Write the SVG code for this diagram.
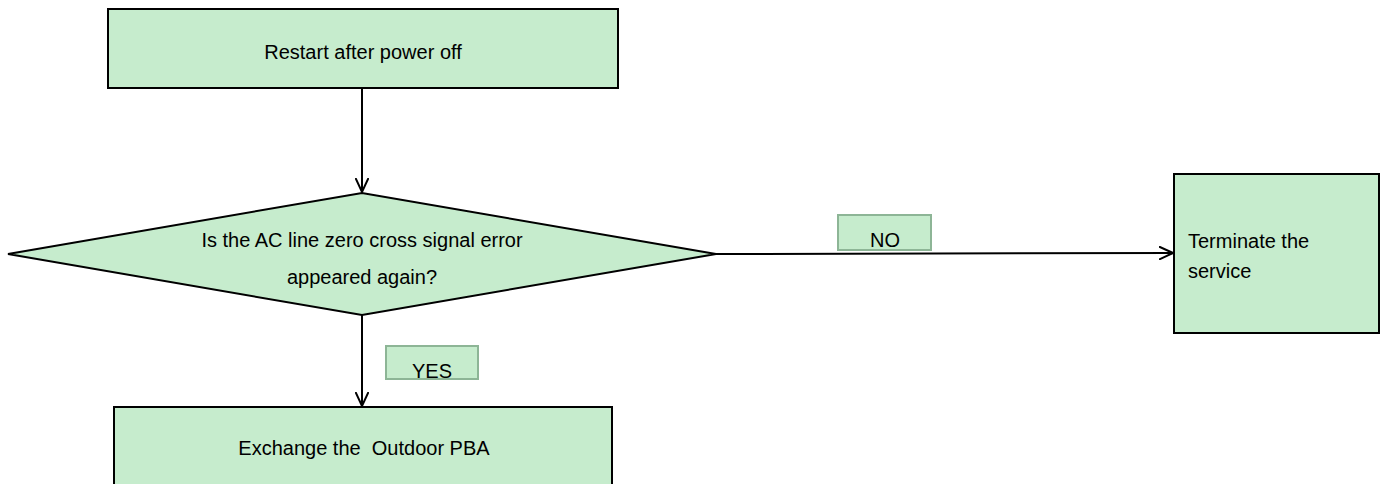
<svg xmlns="http://www.w3.org/2000/svg" width="1386" height="484" viewBox="0 0 1386 484">
  <style>
    .node { fill: #C6ECCD; stroke: #000; stroke-width: 2; }
    .lbl { fill: #C6ECCD; stroke: #8DB596; stroke-width: 2; }
    .t { font-family: "Liberation Sans", Arial, sans-serif; font-size: 20px; fill: #000; white-space: pre; }
    .c { text-anchor: middle; }
    .edge { stroke: #000; stroke-width: 2; fill: none; }
  </style>
  <defs>
    <marker id="arr" viewBox="0 0 15 14" refX="14" refY="7" markerWidth="15" markerHeight="14" markerUnits="userSpaceOnUse" orient="auto">
      <path d="M0,0.5 L14,7 L0,13.5" fill="none" stroke="#000" stroke-width="2"/>
    </marker>
  </defs>
  <rect width="1386" height="484" fill="#fff"/>
  <g id="connectors">
    <line class="edge" x1="362" y1="88" x2="362" y2="192" marker-end="url(#arr)"/>
    <line class="edge" x1="716" y1="254" x2="1173" y2="253" marker-end="url(#arr)"/>
    <line class="edge" x1="362" y1="315" x2="362" y2="406" marker-end="url(#arr)"/>
  </g>
  <g id="n-restart">
    <rect class="node" x="108" y="9" width="510" height="79"/>
    <text class="t c" x="363" y="59">Restart after power off</text>
  </g>
  <g id="n-decision">
    <polygon class="node" points="8,254 362,193 716,254 362,315"/>
    <text class="t c" x="362" y="247">Is the AC line zero cross signal error</text>
    <text class="t c" x="362" y="284">appeared again?</text>
  </g>
  <g id="n-terminate">
    <rect class="node" x="1174" y="174" width="205" height="159"/>
    <text class="t" x="1188" y="248">Terminate the</text>
    <text class="t" x="1188" y="278">service</text>
  </g>
  <g id="n-exchange">
    <rect class="node" x="114" y="407" width="498" height="90"/>
    <text class="t c" x="364" y="455">Exchange the  Outdoor PBA</text>
  </g>
  <g id="l-no">
    <rect class="lbl" x="838" y="215" width="93" height="35"/>
    <text class="t c" x="885" y="247">NO</text>
  </g>
  <g id="l-yes">
    <rect class="lbl" x="386" y="346" width="92" height="33"/>
    <text class="t c" x="432" y="378">YES</text>
  </g>
</svg>
